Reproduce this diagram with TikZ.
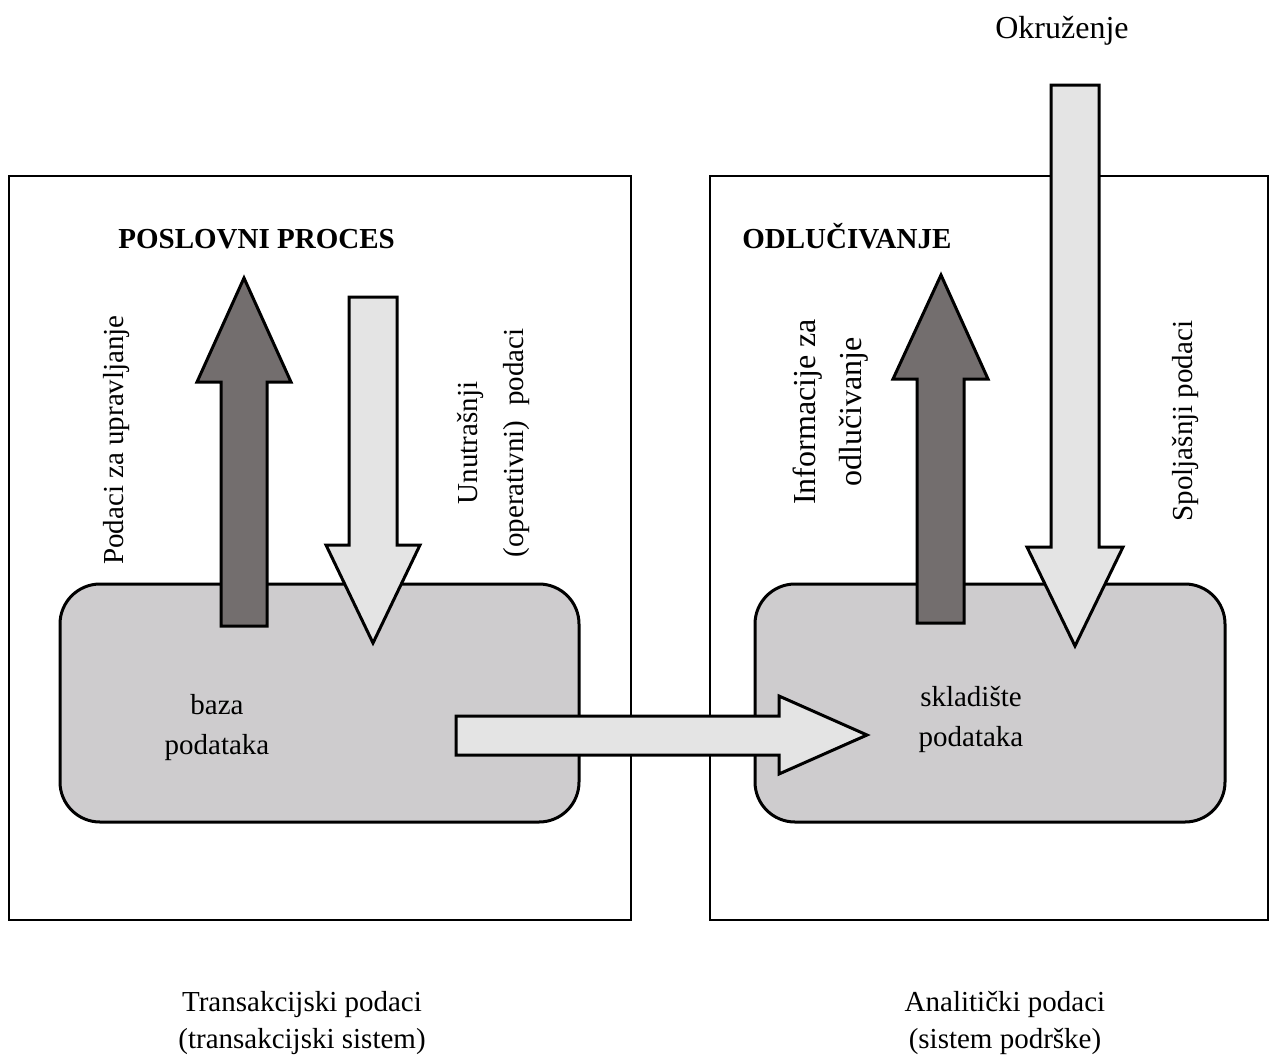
\documentclass[tikz,border=0pt]{standalone}
\usepackage{fontspec}
\setmainfont{Liberation Serif}
\definecolor{storegray}{RGB}{206,204,206}
\definecolor{darkfill}{RGB}{115,110,110}
\definecolor{lightfill}{RGB}{228,228,228}
\begin{document}
\begin{tikzpicture}[x=0.5pt,y=-0.5pt,
  frame/.style={draw=black,line width=1pt},
  store/.style={draw=black,line width=1.5pt,fill=storegray,rounded corners=20pt},
  darkarrow/.style={draw=black,line width=1.5pt,fill=darkfill,line join=miter},
  lightarrow/.style={draw=black,line width=1.5pt,fill=lightfill,line join=miter},
  lbl/.style={font=\fontsize{14.5}{20}\selectfont,align=center,inner sep=0pt},
  rlbl/.style={font=\fontsize{14.5}{23}\selectfont,align=center,inner sep=0pt,rotate=90},
  blbl/.style={font=\fontsize{14.5}{18.5}\selectfont,align=center,inner sep=0pt},
  hdr/.style={font=\fontsize{14.5}{20}\selectfont\bfseries,anchor=base west,inner sep=0pt}]
\useasboundingbox[fill=white] (0,0) rectangle (1270,1061);

% system frames
\draw[frame] (9,176) rectangle (631,920);
\draw[frame] (710,176) rectangle (1268,920);

% stores
\draw[store] (60,584) rectangle (579,822);
\draw[store] (755,584) rectangle (1225,822);

% arrows, left system
\draw[darkarrow] (221,626) -- (221,382) -- (197,382) -- (244,278) -- (291,382) -- (267,382) -- (267,626) -- cycle;
\draw[lightarrow] (349,297) -- (397,297) -- (397,545) -- (420,545) -- (373,643) -- (326,545) -- (349,545) -- cycle;

% arrows, right system
\draw[darkarrow] (917,623) -- (917,379) -- (893,379) -- (941,275) -- (988,379) -- (964,379) -- (964,623) -- cycle;
\draw[lightarrow] (1051,85) -- (1099,85) -- (1099,547) -- (1123,547) -- (1075,646) -- (1027,547) -- (1051,547) -- cycle;

% transfer arrow
\draw[lightarrow] (456,716) -- (779,716) -- (779,696) -- (867,735) -- (779,774) -- (779,755) -- (456,755) -- cycle;

% texts
\node[lbl,font=\fontsize{16}{20}\selectfont] (okr) at (1062,31) {Okruženje};
\node[hdr] (pp) at (118,248) {POSLOVNI PROCES};
\node[hdr] (odl) at (742,248) {ODLUČIVANJE};
\node[rlbl] (pzu) at (117,440) {Podaci za upravljanje};
\node[rlbl] (uop) at (493,443) {Unutrašnji\\(operativni)\ \ podaci};
\node[rlbl,font=\fontsize{16}{23}\selectfont] (izo) at (831,412) {Informacije za\\odlučivanje};
\node[rlbl] (spo) at (1185,421) {Spoljašnji podaci};
\node[lbl] (baza) at (217,728) {baza\\podataka};
\node[lbl] (skl) at (971,719) {skladište\\podataka};
\node[blbl] (trans) at (302,1023) {Transakcijski podaci\\(transakcijski sistem)};
\node[blbl] (anal) at (1005,1023) {Analitički podaci\\(sistem podrške)};
\end{tikzpicture}
\end{document}
